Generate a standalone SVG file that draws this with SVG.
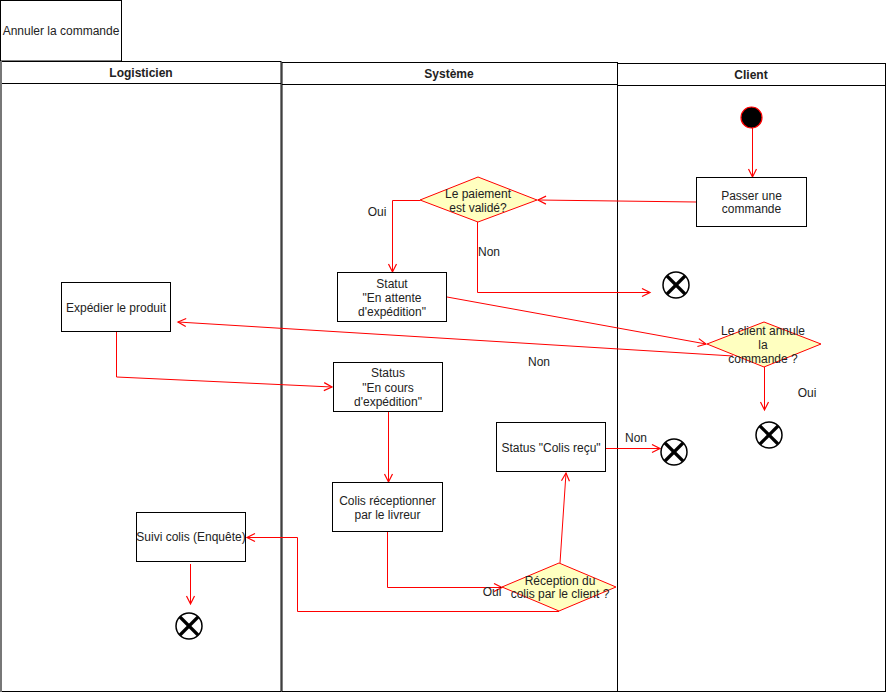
<svg xmlns="http://www.w3.org/2000/svg" width="887" height="693" viewBox="0 0 887 693">
  <style>
    text { font-family: "Liberation Sans", Arial, sans-serif; font-size: 12px; fill: #222; text-anchor: middle; }
    .hdr { font-weight: bold; }
    .box { fill: #fff; stroke: #000; stroke-width: 1; }
    .lane { fill: none; stroke: #000; stroke-width: 1; }
    .dec { fill: #ffffc0; stroke: #ff0000; stroke-width: 1; }
    .flow { fill: none; stroke: #ff0000; stroke-width: 1; }
    .endc { fill: #fff; stroke: #000; stroke-width: 1.5; }
    .endx { stroke: #000; stroke-width: 3.2; }
  </style>
  <defs>
    <marker id="arr" markerUnits="userSpaceOnUse" markerWidth="12" markerHeight="12" refX="9" refY="5" orient="auto">
      <path d="M1,1 L9,5 L1,9" fill="none" stroke="#ff0000" stroke-width="1.2"/>
    </marker>
    <g id="final">
      <circle cx="0" cy="0" r="13" class="endc"/>
      <line x1="-9" y1="-9" x2="9" y2="9" class="endx"/>
      <line x1="9" y1="-9" x2="-9" y2="9" class="endx"/>
    </g>
  </defs>

  <rect width="887" height="693" fill="#fff"/>

  <!-- title frame -->
  <g id="title">
    <rect x="0.5" y="0.5" width="121" height="60.5" class="box"/>
    <text x="61" y="35">Annuler la commande</text>
  </g>

  <!-- swimlanes -->
  <g id="lane-logisticien">
    <rect x="1.5" y="61.5" width="279.5" height="630" class="lane"/>
    <line x1="1.5" y1="83.5" x2="281" y2="83.5" stroke="#000" stroke-width="1"/>
    <line x1="1" y1="61" x2="1" y2="692" stroke="#777" stroke-width="2"/>
    <text x="141" y="77" class="hdr">Logisticien</text>
  </g>
  <g id="lane-systeme">
    <rect x="282" y="62.5" width="335.5" height="629" class="lane"/>
    <line x1="282" y1="84.5" x2="617.5" y2="84.5" stroke="#000" stroke-width="1"/>
    <text x="449" y="78" class="hdr">Système</text>
  </g>
  <g id="lane-client">
    <rect x="617.5" y="63.5" width="268" height="628" class="lane"/>
    <line x1="617.5" y1="85.5" x2="885.5" y2="85.5" stroke="#000" stroke-width="1"/>
    <text x="751" y="79" class="hdr">Client</text>
  </g>

  <!-- connectors -->
  <g id="connectors">
    <line x1="752.5" y1="128" x2="752.5" y2="177" class="flow" marker-end="url(#arr)"/>
    <line x1="696" y1="202" x2="538" y2="200" class="flow" marker-end="url(#arr)"/>
    <polyline points="420,200.5 392.5,200.5 392.5,272" class="flow" marker-end="url(#arr)"/>
    <polyline points="477.5,222 477.5,292.5 650,292.5" class="flow" marker-end="url(#arr)"/>
    <line x1="447" y1="297" x2="706" y2="344" class="flow" marker-end="url(#arr)"/>
    <line x1="764.5" y1="367" x2="764.5" y2="410" class="flow" marker-end="url(#arr)"/>
    <line x1="733" y1="356" x2="178" y2="322" class="flow" marker-end="url(#arr)"/>
    <polyline points="116.5,332 116.5,377 332,387" class="flow" marker-end="url(#arr)"/>
    <line x1="388.5" y1="412" x2="388.5" y2="482" class="flow" marker-end="url(#arr)"/>
    <polyline points="387.5,532 387.5,587.5 502,587.5" class="flow" marker-end="url(#arr)"/>
    <line x1="560" y1="563" x2="566" y2="473" class="flow" marker-end="url(#arr)"/>
    <line x1="606" y1="448.5" x2="660" y2="448.5" class="flow" marker-end="url(#arr)"/>
    <polyline points="559,611.5 297.5,611.5 297.5,537.5 247,537.5" class="flow" marker-end="url(#arr)"/>
    <line x1="190.5" y1="564" x2="190.5" y2="604" class="flow" marker-end="url(#arr)"/>
  </g>

  <!-- connector labels -->
  <g id="labels">
    <text x="377" y="216">Oui</text>
    <text x="489" y="256">Non</text>
    <text x="807" y="397">Oui</text>
    <text x="539" y="366">Non</text>
    <text x="636" y="442">Non</text>
    <text x="492" y="596">Oui</text>
  </g>

  <!-- nodes -->
  <g id="start">
    <circle cx="751.5" cy="117.5" r="10.5" fill="#000" stroke="#ff0000" stroke-width="1.2"/>
  </g>
  <g id="passer-commande">
    <rect x="696.5" y="177.5" width="110" height="49" class="box"/>
    <text x="751.5" y="200">Passer une</text>
    <text x="751.5" y="213">commande</text>
  </g>
  <g id="paiement-valide">
    <polygon points="420,200 478,177 537,200 478,222" class="dec"/>
    <text x="478" y="198">Le paiement</text>
    <text x="478" y="212">est validé?</text>
  </g>
  <g id="end-paiement">
    <use href="#final" x="676" y="285"/>
  </g>
  <g id="statut-attente">
    <rect x="337.5" y="272.5" width="109" height="49" class="box"/>
    <text x="392" y="288">Statut</text>
    <text x="392" y="302">"En attente</text>
    <text x="392" y="316">d'expédition"</text>
  </g>
  <g id="client-annule">
    <polygon points="707,344 764,322 821,344 764,367" class="dec"/>
    <text x="763" y="335">Le client annule</text>
    <text x="763" y="349">la</text>
    <text x="763" y="363">commande ?</text>
  </g>
  <g id="end-annule">
    <use href="#final" x="769" y="435"/>
  </g>
  <g id="expedier-produit">
    <rect x="61.5" y="282.5" width="109" height="49" class="box" stroke="#555"/>
    <text x="116" y="312">Expédier le produit</text>
  </g>
  <g id="status-en-cours">
    <rect x="333.5" y="362.5" width="109" height="49" class="box"/>
    <text x="388" y="377">Status</text>
    <text x="388" y="392">"En cours</text>
    <text x="388" y="406">d'expédition"</text>
  </g>
  <g id="colis-receptionne">
    <rect x="332.5" y="482.5" width="110" height="49" class="box"/>
    <text x="387.5" y="505">Colis réceptionner</text>
    <text x="387.5" y="519">par le livreur</text>
  </g>
  <g id="reception-client">
    <polygon points="502,587 559,563 616,587 559,611" class="dec"/>
    <text x="560" y="585">Réception du</text>
    <text x="560" y="598">colis par le client ?</text>
  </g>
  <g id="status-colis-recu">
    <rect x="496.5" y="422.5" width="109" height="49" class="box"/>
    <text x="551" y="452">Status "Colis reçu"</text>
  </g>
  <g id="end-recu">
    <use href="#final" x="674" y="452"/>
  </g>
  <g id="suivi-colis">
    <rect x="136.5" y="512.5" width="109" height="49" class="box"/>
    <text x="191" y="541">Suivi colis (Enquête)</text>
  </g>
  <g id="end-suivi">
    <use href="#final" x="189" y="626"/>
  </g>
</svg>
